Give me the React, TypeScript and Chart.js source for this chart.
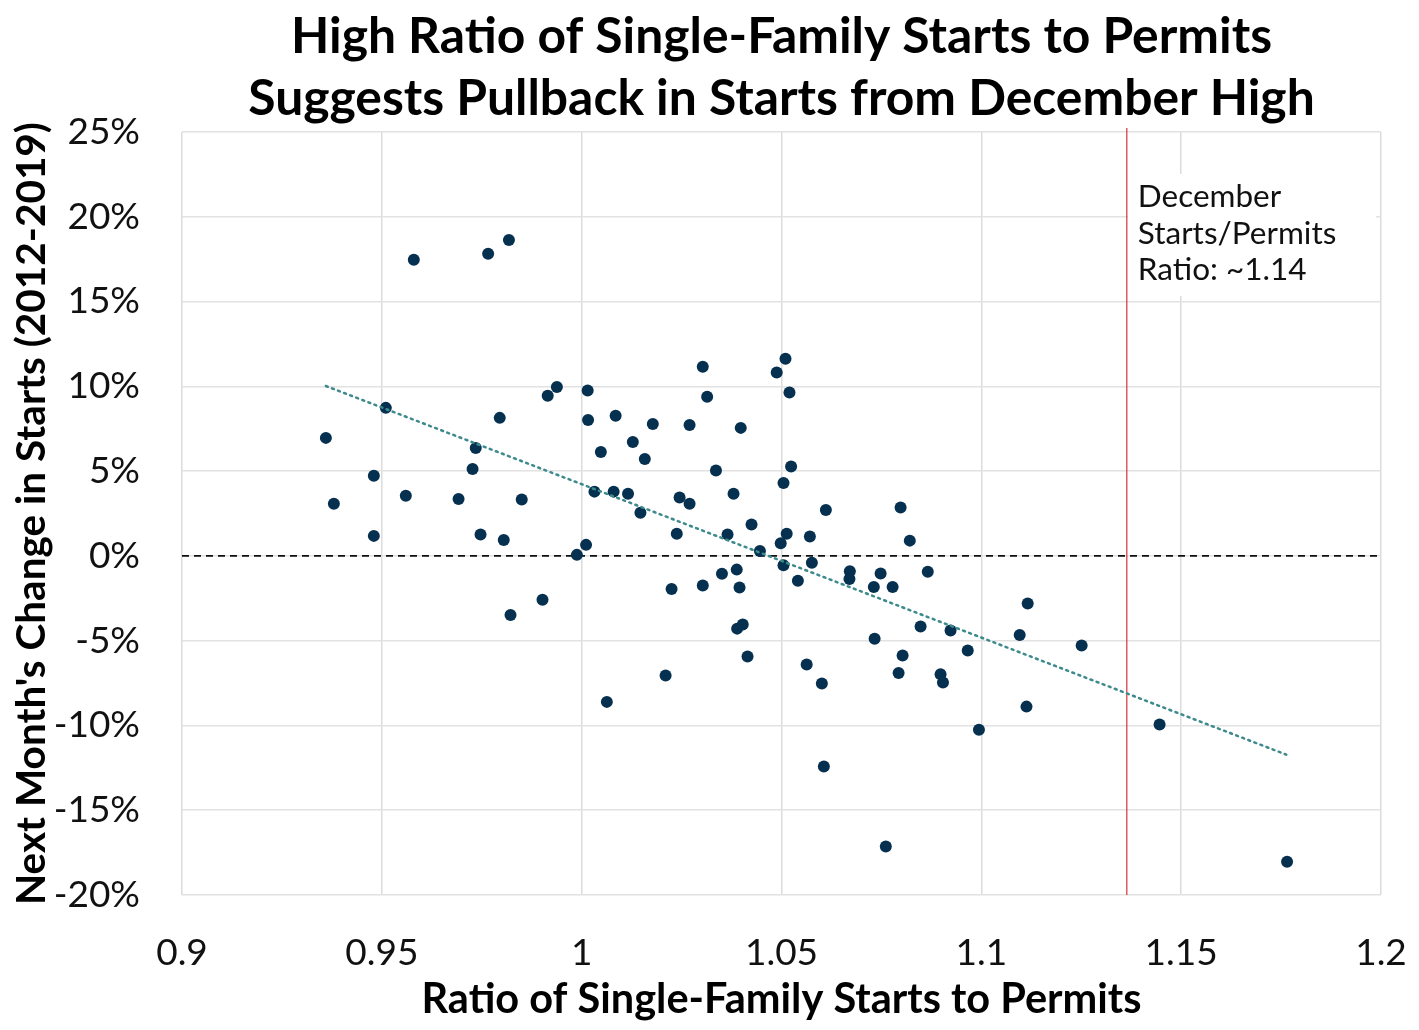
import React, { useEffect, useRef } from "react";
import { Chart, registerables } from "chart.js";

Chart.register(...registerables);

// ---- Data ----
const ratioX = [
  0.936, 0.938, 0.948, 0.948, 0.951, 0.956, 0.958, 0.9692, 0.9727, 0.9735,
  0.9747, 0.9766, 0.9795, 0.9805, 0.9818, 0.9822, 0.985, 0.9902, 0.9915, 0.9938,
  0.9988, 1.0011, 1.0015, 1.0016, 1.0032, 1.0048, 1.0063, 1.008, 1.0085, 1.0116,
  1.0128, 1.0147, 1.0158, 1.0178, 1.021, 1.0225, 1.0238, 1.0245, 1.027, 1.027,
  1.0303, 1.0303, 1.0314, 1.0336, 1.0351, 1.0365, 1.038, 1.0388, 1.0389, 1.0395,
  1.0398, 1.0403, 1.0415, 1.0425, 1.0446, 1.0488, 1.0498, 1.0505, 1.0505, 1.051,
  1.0513, 1.052, 1.0524, 1.0541, 1.0563, 1.0571, 1.0576, 1.0601, 1.0606, 1.0611,
  1.0671, 1.067, 1.0731, 1.0733, 1.0748, 1.0761, 1.0778, 1.0793, 1.0798, 1.0803,
  1.0821, 1.0848, 1.0866, 1.0898, 1.0904, 1.0923, 1.0966, 1.0994, 1.1096, 1.1116,
  1.1113, 1.1251, 1.1446, 1.1765,
];
const changeY = [
  6.96, 3.07, 4.72, 1.18, 8.73, 3.54, 17.47, 3.36, 5.13, 6.37,
  1.26, 17.82, 8.14, 0.94, 18.63, -3.48, 3.32, -2.59, 9.45, 9.96,
  0.06, 0.65, 9.75, 8.02, 3.79, 6.13, -8.61, 3.79, 8.27, 3.66,
  6.72, 2.54, 5.72, 7.78, -7.06, -1.95, 1.31, 3.44, 3.07, 7.72,
  11.16, -1.75, 9.39, 5.03, -1.06, 1.26, 3.67, -0.81, -4.29, -1.87,
  7.55, -4.05, -5.94, 1.85, 0.29, 10.81, 0.75, -0.55, 4.3, 11.62,
  1.3, 9.63, 5.27, -1.46, -6.41, 1.14, -0.4, -7.53, -12.42, 2.71,
  -0.9, -1.36, -1.83, -4.88, -1.04, -17.14, -1.83, -6.9, 2.85, -5.88,
  0.9, -4.17, -0.93, -6.98, -7.47, -4.4, -5.58, -10.26, -4.66, -2.81,
  -8.89, -5.29, -9.95, -18.04,
];
const trendX = [0.936, 1.1763];
const trendY = [10.02, -11.72];
const zeroX = [0.9, 1.2];
const zeroY = [0, 0];
const decemberRatio = 1.1364;
const annotationLines = ["December", "Starts/Permits", "Ratio: ~1.14"];
const titleLines = [
  "High Ratio of Single-Family Starts to Permits",
  "Suggests Pullback in Starts from December High",
];
const xTitle = "Ratio of Single-Family Starts to Permits";
const yTitle = "Next Month's Change in Starts (2012-2019)";
const xTicks = [0.9, 0.95, 1, 1.05, 1.1, 1.15, 1.2];
const xTickLabels = ["0.9", "0.95", "1", "1.05", "1.1", "1.15", "1.2"];
const yTicks = [-20, -15, -10, -5, 0, 5, 10, 15, 20, 25];

const FONT = "Lato";

export default function App() {
  const ref = useRef<HTMLCanvasElement | null>(null);

  useEffect(() => {
    document.body.style.margin = "0";
    const canvas = ref.current;
    if (!canvas) return;

    const annotationPlugin = {
      id: "decemberAnnotation",
      beforeDatasetsDraw(chart: any) {
        const { ctx, chartArea, scales } = chart;
        const x = scales.x.getPixelForValue(decemberRatio);
        ctx.save();
        const fontSize = 31.5;
        const lh = 36.5;
        ctx.font = `${fontSize}px ${FONT}`;
        const boxLeft = x + 1;
        const boxTop = chartArea.top + 42;
        const boxW = 248;
        const boxH = 122;
        ctx.fillStyle = "#ffffff";
        ctx.fillRect(boxLeft, boxTop, boxW, boxH);
        ctx.fillStyle = "#111111";
        ctx.textAlign = "left";
        ctx.textBaseline = "middle";
        annotationLines.forEach((t, i) => {
          ctx.fillText(t, boxLeft + 10, boxTop + 23 + i * lh);
        });
        ctx.strokeStyle = "#d8313a";
        ctx.lineWidth = 1.2;
        ctx.beginPath();
        ctx.moveTo(x, chartArea.top - 4);
        ctx.lineTo(x, chartArea.bottom);
        ctx.stroke();
        ctx.restore();
      },
    };

    const chart = new Chart(canvas, {
      type: "scatter",
      data: {
        datasets: [
          {
            type: "line",
            label: "Trend",
            data: trendX.map((x, i) => ({ x, y: trendY[i] })),
            borderColor: "#3d8a8c",
            borderWidth: 2.5,
            borderDash: [2, 4.5],
            borderCapStyle: "round",
            pointRadius: 0,
            fill: false,
            order: 0,
          } as any,
          {
            label: "Months",
            data: ratioX.map((x, i) => ({ x, y: changeY[i] })),
            backgroundColor: "#06304f",
            borderColor: "#06304f",
            pointRadius: 6,
            pointBorderWidth: 0,
            order: 1,
          },
          {
            type: "line",
            label: "Zero",
            data: zeroX.map((x, i) => ({ x, y: zeroY[i] })),
            borderColor: "#111111",
            borderWidth: 1.6,
            borderDash: [7, 5],
            pointRadius: 0,
            fill: false,
            order: 2,
          } as any,
        ],
      },
      options: {
        animation: false,
        responsive: false,
        maintainAspectRatio: false,
        layout: { padding: { left: 0, right: 38, top: 0, bottom: 0 } },
        plugins: {
          legend: { display: false },
          tooltip: { enabled: false },
          title: {
            display: true,
            fullSize: false,
            text: titleLines,
            color: "#000000",
            font: { family: FONT, size: 49.8, weight: "bold", lineHeight: 1.245 },
            padding: { top: 6, bottom: 2 },
          },
        },
        scales: {
          x: {
            type: "linear",
            min: 0.9,
            max: 1.2,
            afterBuildTicks: (scale: any) => {
              scale.ticks = xTicks.map((v) => ({ value: v }));
            },
            afterFit: (scale: any) => {
              scale.height = 135;
              scale.paddingLeft = 0;
              scale.paddingRight = 0;
            },
            ticks: {
              color: "#111111",
              font: { family: FONT, size: 37 },
              padding: 36,
              maxRotation: 0,
              callback: (v: any) => {
                const i = xTicks.findIndex((t) => Math.abs(t - Number(v)) < 1e-6);
                return i >= 0 ? xTickLabels[i] : "";
              },
            },
            grid: { color: "#dcdcdc", lineWidth: 1.5, drawTicks: false },
            border: { display: false },
            title: {
              display: true,
              text: xTitle,
              color: "#000000",
              font: { family: FONT, size: 41.5, weight: "bold", lineHeight: 1.2 },
              padding: { top: 0, bottom: 5 },
            },
          },
          y: {
            type: "linear",
            min: -20,
            max: 25,
            afterBuildTicks: (scale: any) => {
              scale.ticks = yTicks.map((v) => ({ value: v }));
            },
            afterFit: (scale: any) => {
              scale.width = 182;
              scale.paddingTop = 0;
              scale.paddingBottom = 0;
            },
            ticks: {
              color: "#111111",
              font: { family: FONT, size: 37 },
              padding: 42,
              callback: (v: any) => `${v}%`,
            },
            grid: { color: "#e2e2e2", lineWidth: 1.5, drawTicks: false },
            border: { display: false },
            title: {
              display: true,
              text: yTitle,
              color: "#000000",
              font: { family: FONT, size: 40.5, weight: "bold", lineHeight: 1.2 },
              padding: { top: 8, bottom: 0 },
            },
          },
        },
      },
      plugins: [annotationPlugin],
    });

    return () => chart.destroy();
  }, []);

  return (
    <div style={{ width: 1419, height: 1030, background: "#ffffff" }}>
      <canvas ref={ref} width={1419} height={1030} style={{ width: 1419, height: 1030, display: "block" }} />
    </div>
  );
}
